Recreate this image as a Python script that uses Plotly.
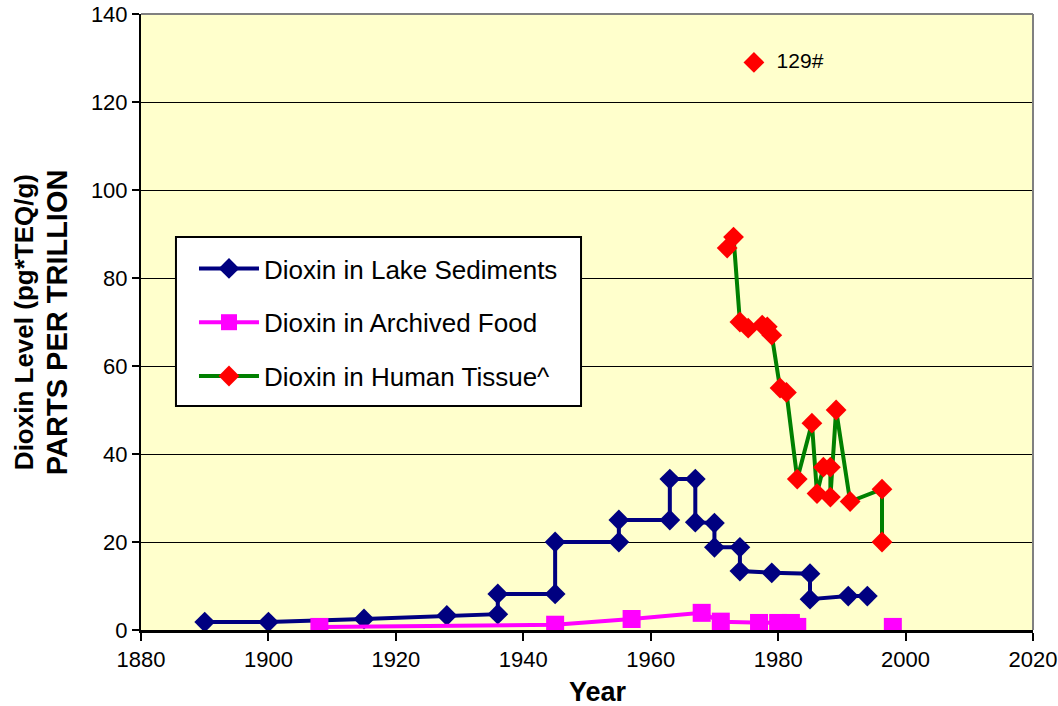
import plotly.graph_objects as go

# Dioxin in lake sediment cores (dated horizons)
lake_year = [1890, 1900, 1915, 1928, 1936, 1936, 1945, 1945, 1955, 1955, 1963, 1963,
             1967, 1967, 1970, 1970, 1974, 1974, 1979, 1985, 1985, 1991, 1994]
lake_val = [1.8, 1.8, 2.5, 3.3, 3.6, 8.2, 8.2, 20, 20, 25, 25, 34.3,
            34.3, 24.5, 24.3, 18.8, 18.8, 13.4, 13, 12.8, 7, 7.7, 7.7]

# Dioxin in archived food samples (None breaks the line)
food_year = [1908, 1945, 1957, 1968, 1971, 1977, 1980, 1980.3, 1982, 1983, None, 1998]
food_val = [0.7, 1.2, 2.5, 3.9, 1.9, 1.6, 1.6, 0.7, 1.6, 0.7, None, 0.7]

# Dioxin in human tissue
tissue_year = [1972, 1973, 1974, 1975.3, 1977.5, 1978.3, 1979, 1980.3, 1981.3, 1983,
               1985.3, 1986.1, 1987.1, 1988.2, 1988.2, 1989.1, 1991.3, 1996.3, 1996.3]
tissue_val = [86.8, 89.3, 70, 68.6, 69.3, 68.9, 67, 55, 54, 34.3,
              47, 31, 37, 37, 30.2, 50, 29.2, 32, 20]

# Outlier plotted on its own with a label
outlier_year = [1976.2]
outlier_val = [129]
outlier_label = ["  129#"]

x_ticks = [1880, 1900, 1920, 1940, 1960, 1980, 2000, 2020]
y_ticks = [0, 20, 40, 60, 80, 100, 120, 140]

FONT = "Liberation Sans, Arial, sans-serif"
NAVY = "#000080"
MAGENTA = "#FF00FF"
RED = "#FF0000"
GREEN = "#008000"

fig = go.Figure()

fig.add_trace(go.Scatter(
    x=lake_year, y=lake_val, mode="lines+markers",
    name="Dioxin in Lake Sediments", legendgroup="a",
    line=dict(color=NAVY, width=4),
    marker=dict(symbol="diamond", size=16, color=NAVY),
))
fig.add_trace(go.Scatter(
    x=food_year, y=food_val, mode="lines+markers",
    name="Dioxin in Archived Food", legendgroup="b",
    line=dict(color=MAGENTA, width=4),
    marker=dict(symbol="square", size=18, color=MAGENTA),
    connectgaps=False,
))
fig.add_trace(go.Scatter(
    x=tissue_year, y=tissue_val, mode="lines+markers",
    name="Dioxin in Human Tissue^", legendgroup="c",
    line=dict(color=GREEN, width=4),
    marker=dict(symbol="diamond", size=16, color=RED),
))
fig.add_trace(go.Scatter(
    x=outlier_year, y=outlier_val, mode="markers+text",
    text=outlier_label, textposition="middle right",
    textfont=dict(family=FONT, size=21, color="black"),
    marker=dict(symbol="diamond", size=16, color=RED),
    showlegend=False,
))

# grey frame on the top and right edges of the plot area
fig.add_shape(type="line", xref="paper", yref="paper", x0=0, x1=1, y0=1, y1=1,
              line=dict(color="#808080", width=2), layer="above")
fig.add_shape(type="line", xref="paper", yref="paper", x0=1, x1=1, y0=0, y1=1,
              line=dict(color="#808080", width=2), layer="above")

# white framed box behind the legend entries
fig.add_shape(type="rect", xref="paper", yref="paper",
              x0=0.0392, x1=0.4933, y0=0.3636, y1=0.638,
              fillcolor="white", line=dict(color="black", width=2), layer="above")

# y-axis title in two lines of different sizes
fig.add_annotation(xref="paper", yref="paper", x=-0.131, y=0.5, textangle=-90,
                   text="<b>Dioxin Level (pg*TEQ/g)</b>", showarrow=False,
                   xanchor="center", yanchor="middle",
                   font=dict(family=FONT, size=26, color="black"))
fig.add_annotation(xref="paper", yref="paper", x=-0.094, y=0.5, textangle=-90,
                   text="<b>PARTS PER TRILLION</b>", showarrow=False,
                   xanchor="center", yanchor="middle",
                   font=dict(family=FONT, size=29, color="black"))
fig.add_annotation(xref="paper", yref="paper", x=0.512, y=-0.101,
                   text="<b>Year</b>", showarrow=False,
                   xanchor="center", yanchor="middle",
                   font=dict(family=FONT, size=27, color="black"))

fig.update_layout(
    width=1058, height=706,
    margin=dict(l=141, r=25, t=14, b=76, autoexpand=False),
    paper_bgcolor="white",
    plot_bgcolor="#FFFFCC",
    font=dict(family=FONT, size=22, color="black"),
    legend=dict(
        x=0.0594, y=0.625, xanchor="left", yanchor="top",
        bgcolor="rgba(0,0,0,0)", borderwidth=0,
        font=dict(family=FONT, size=26, color="black"),
        traceorder="grouped", tracegroupgap=17, itemwidth=60,
    ),
    xaxis=dict(
        range=[1880, 2020], tickvals=x_ticks, ticks="outside", ticklen=8,
        tickwidth=2, tickcolor="black", showline=True, linecolor="black",
        linewidth=3, showgrid=False, zeroline=False, automargin=False,
        tickfont=dict(family=FONT, size=22, color="black"),
    ),
    yaxis=dict(
        range=[0, 140], tickvals=y_ticks, ticks="outside", ticklen=7,
        tickwidth=2, tickcolor="black", showline=True, linecolor="black",
        linewidth=2, showgrid=True, gridcolor="black", gridwidth=1,
        zeroline=False, automargin=False,
        tickfont=dict(family=FONT, size=22, color="black"),
    ),
)

fig.write_html("out.html")
